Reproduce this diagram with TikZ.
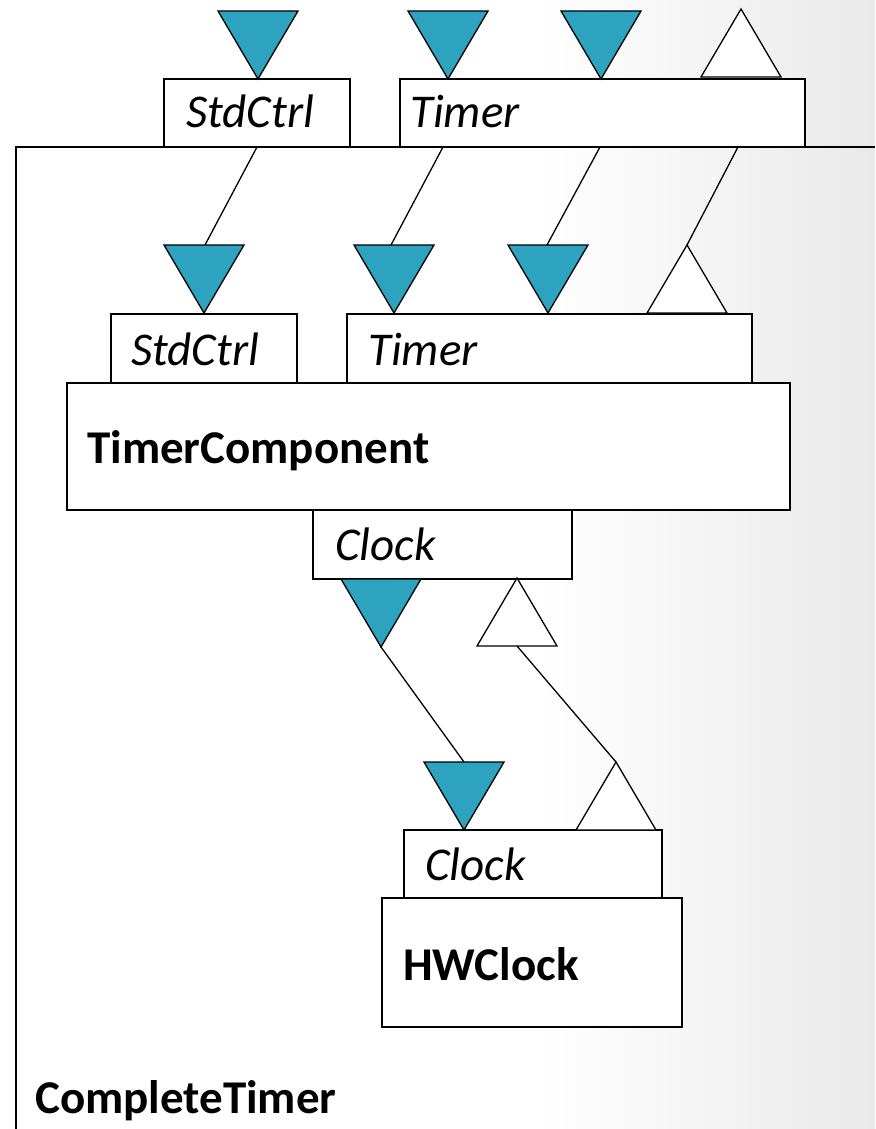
\documentclass[tikz,border=0pt]{standalone}
\usepackage{fontspec}
\setmainfont{Carlito}
\definecolor{portfill}{HTML}{2EA3C0}
\definecolor{bgedge}{HTML}{E9E9E9}
\tikzset{
  box/.style={draw, fill=white, line width=1.6pt, inner sep=0pt},
  wire/.style={draw, line width=1.3pt},
  ifname/.style={inner sep=0pt, anchor=base west, font=\fontsize{47}{54}\selectfont\itshape},
  compname/.style={inner sep=0pt, anchor=base west, font=\fontsize{47}{54}\selectfont\bfseries},
  % provided interface: filled triangle pointing down, tip at the origin
  useport/.pic={\draw[line width=1.3pt, fill=portfill] (-40,-68) -- (40,-68) -- (0,0) -- cycle;},
  % used interface: open triangle pointing up, apex at the origin
  provport/.pic={\draw[line width=1.3pt, fill=white] (-40,68) -- (40,68) -- (0,0) -- cycle;}
}
\begin{document}
\begin{tikzpicture}[x=1pt, y=-1pt]
  % page background with a light grey fade at the right
  \useasboundingbox (0,0) rectangle (875,1129);
  \fill[white] (0,0) rectangle (875,1129);
  \shade[left color=white, right color=bgedge] (540,0) rectangle (875,1129);

  % CompleteTimer frame (open at the right and bottom)
  \draw[line width=1.6pt] (16,1129) -- (16,147) -- (875,147);
  \node[compname] (ctname) at (35,1113) {CompleteTimer};

  % outer interfaces of CompleteTimer
  \path[box] (164,79) rectangle (350,147);
  \path[box] (400,79) rectangle (805,147);
  \node[ifname] (oStd) at (186,128) {StdCtrl};
  \node[ifname] (oTim) at (410,128) {Timer};
  \pic at (258,79) {useport};
  \pic at (448,79) {useport};
  \pic at (601,79) {useport};
  \pic at (741,9) {provport};

  \coordinate (oS) at (257,147);
  \coordinate (oT1) at (443,147);
  \coordinate (oT2) at (600,147);
  \coordinate (oT3) at (738,147);

  % TimerComponent
  \path[box] (67,383) rectangle (790,510);
  \node[compname] (tcname) at (87,463) {TimerComponent};
  \path[box] (111,314) rectangle (297,383);
  \path[box] (347,314) rectangle (752,383);
  \node[ifname] (iStd) at (131,365) {StdCtrl};
  \node[ifname] (iTim) at (368,365) {Timer};
  \path[box] (313,510) rectangle (572,579);
  \node[ifname] (cClk) at (335,560) {Clock};

  \pic at (204,313) {useport};
  \pic at (394,313) {useport};
  \pic at (548,313) {useport};
  \pic at (687,245) {provport};
  \coordinate (iS) at (205,245);
  \coordinate (iT1) at (391,245);
  \coordinate (iT2) at (547,245);
  \coordinate (iT3) at (687,245);

  % Clock interface of TimerComponent
  \pic at (381,647) {useport};
  \pic at (517,578) {provport};
  \coordinate (cU) at (381,647);
  \coordinate (cP) at (517,646);

  % HWClock
  \path[box] (382,898) rectangle (682,1027);
  \node[compname] (hwname) at (403,980) {HWClock};
  \path[box] (404,830) rectangle (662,898);
  \node[ifname] (hClk) at (425,880) {Clock};
  \pic at (464,830) {useport};
  \pic at (616,762) {provport};
  \coordinate (hU) at (464,762);
  \coordinate (hP) at (616,762);

  % wiring
  \draw[wire] (oS) -- (iS);
  \draw[wire] (oT1) -- (iT1);
  \draw[wire] (oT2) -- (iT2);
  \draw[wire] (oT3) -- (iT3);
  \draw[wire] (cU) -- (hU);
  \draw[wire] (cP) -- (hP);
\end{tikzpicture}
\end{document}
